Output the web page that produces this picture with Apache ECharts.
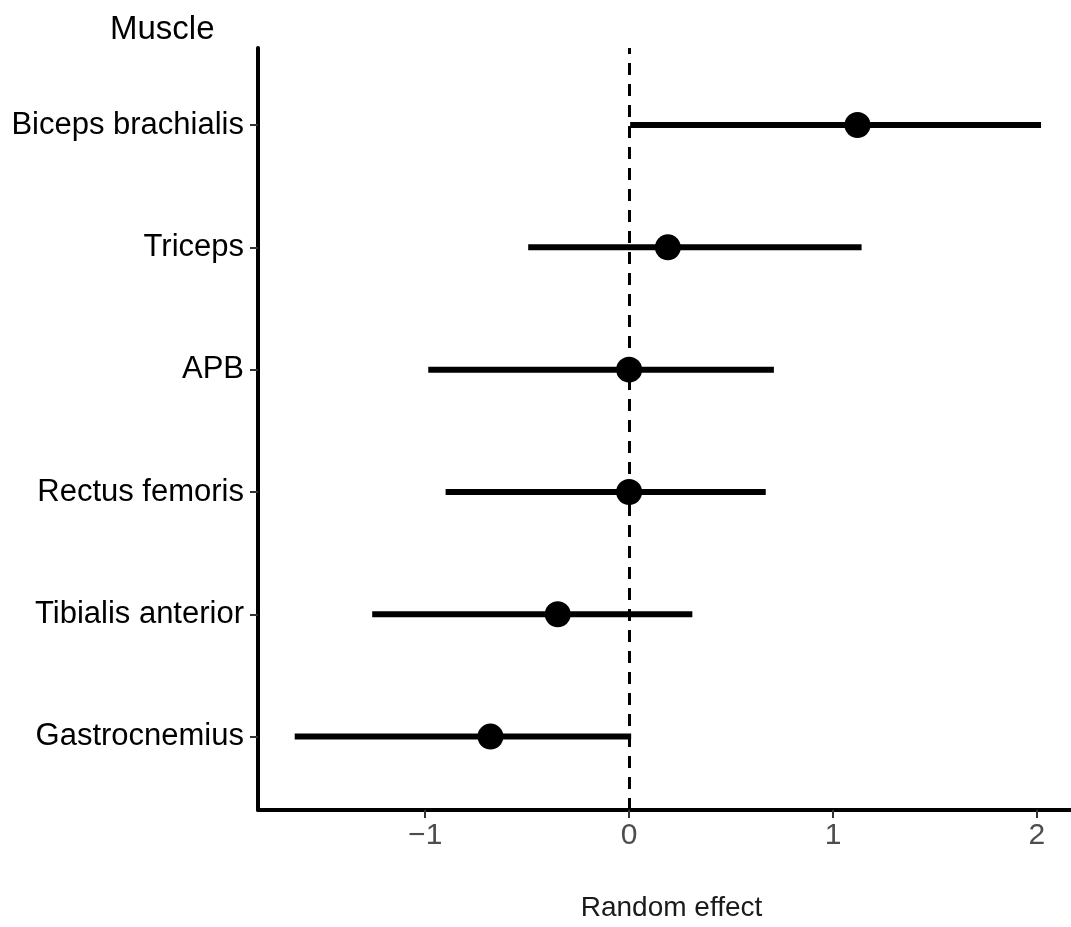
<!DOCTYPE html>
<html>
<head>
<meta charset="utf-8">
<script src="https://cdn.jsdelivr.net/npm/echarts@6/dist/echarts.min.js"></script>
<style>
  html, body { margin: 0; padding: 0; background: #fff; }
  #chart { width: 1071px; height: 927px; }
</style>
</head>
<body>
<div id="chart"></div>
<script>
// Muscles, bottom to top
const muscles = ['Gastrocnemius', 'Tibialis anterior', 'Rectus femoris', 'APB', 'Triceps', 'Biceps brachialis'];
// Point estimate and interval bounds of the random effect per muscle
const estimate = [-0.68, -0.35, 0.0, 0.0, 0.19, 1.12];
const lower = [-1.64, -1.26, -0.90, -0.985, -0.495, 0.005];
const upper = [0.01, 0.31, 0.67, 0.71, 1.14, 2.02];
const xTicks = [-1, 0, 1, 2];

const FONT = '"Liberation Sans", Arial, sans-serif';
const positions = muscles.map((_, i) => i + 1);

const chart = echarts.init(document.getElementById('chart'), null, { renderer: 'canvas' });

chart.setOption({
  backgroundColor: '#ffffff',
  animation: false,
  title: {
    text: 'Muscle',
    left: 105,
    top: 8,
    textStyle: { fontFamily: FONT, fontSize: 33, fontWeight: 'normal', color: '#000' }
  },
  grid: { left: 258, right: 0, top: 48, bottom: 107, containLabel: false },
  xAxis: {
    type: 'value',
    min: -1.82,
    max: 2.167,
    name: 'Random effect',
    nameLocation: 'middle',
    nameGap: 84,
    nameTextStyle: { fontFamily: FONT, fontSize: 28, color: '#1a1a1a', padding: [0, 0, 0, 14] },
    axisLine: { show: true, onZero: false, lineStyle: { color: '#000', width: 4 } },
    axisTick: { show: true, customValues: xTicks, length: 8, lineStyle: { color: '#333', width: 2 } },
    axisLabel: {
      customValues: xTicks,
      fontFamily: FONT, fontSize: 30, color: '#4d4d4d', margin: 11,
      formatter: v => (v < 0 ? '\u2212' + Math.abs(v) : String(v))
    },
    splitLine: { show: false }
  },
  yAxis: {
    type: 'value',
    min: 0.4,
    max: 6.63,
    axisLine: { show: true, onZero: false, lineStyle: { color: '#000', width: 4 } },
    axisTick: { show: true, customValues: positions, length: 8, lineStyle: { color: '#333', width: 2 } },
    axisLabel: {
      customValues: positions,
      fontFamily: FONT, fontSize: 31, color: '#000', margin: 14,
      formatter: v => muscles[Math.round(v) - 1] || ''
    },
    splitLine: { show: false }
  },
  series: [
    {
      // interval bars
      type: 'custom',
      z: 3,
      data: muscles.map((m, i) => [lower[i], upper[i], i + 1]),
      encode: { x: [0, 1], y: 2 },
      renderItem: (params, api) => {
        const a = api.coord([api.value(0), api.value(2)]);
        const b = api.coord([api.value(1), api.value(2)]);
        return {
          type: 'line',
          shape: { x1: a[0], y1: a[1], x2: b[0], y2: b[1] },
          style: { stroke: '#000', lineWidth: 6 }
        };
      }
    },
    {
      // point estimates
      type: 'scatter',
      z: 4,
      symbol: 'circle',
      symbolSize: 26,
      itemStyle: { color: '#000', opacity: 1 },
      data: muscles.map((m, i) => [estimate[i], i + 1]),
      markLine: {
        silent: true,
        symbol: 'none',
        z: 1,
        label: { show: false },
        lineStyle: { color: '#000', width: 3, type: [12, 9] },
        data: [{ xAxis: 0 }]
      }
    }
  ]
});
</script>
</body>
</html>
